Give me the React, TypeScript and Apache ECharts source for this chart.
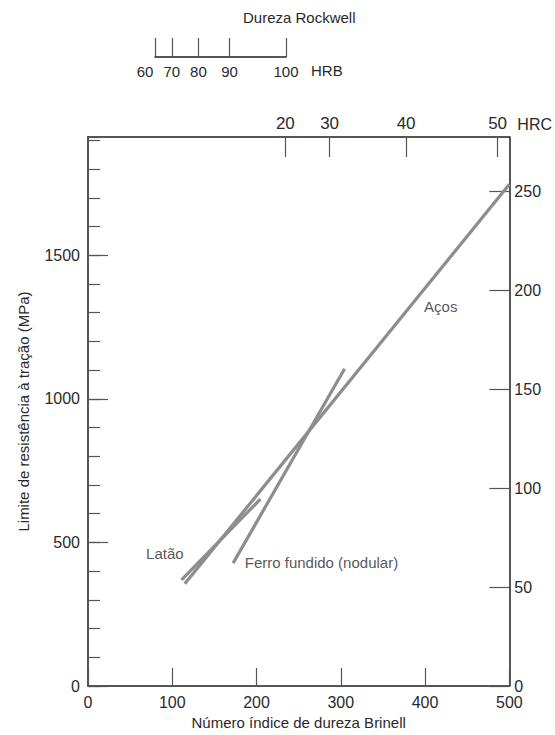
import React, { useEffect, useRef } from "react";
import * as echarts from "echarts";

// Brinell hardness (x) vs tensile strength (MPa) for each material line
const acosHB = [114.9, 500];
const acosMPa = [356, 1747];
const lataoHB = [111, 204.6];
const lataoMPa = [370, 651];
const ferroHB = [172.2, 304.5];
const ferroMPa = [428, 1105];

// Rockwell C scale: labels and their Brinell equivalents
const hrcLabels = [20, 30, 40, 50];
const hrcAtBrinell = [234.2, 286.7, 377.5, 486.1];

// Rockwell B scale: labels and their Brinell equivalents
const hrbLabels = [60, 70, 80, 90, 100];
const hrbAtBrinell = [79.4, 99.2, 130.7, 167.4, 234.2];

// Annotations
const annotTexts = ["Aços", "Latão", "Ferro fundido (nodular)"];
const annotHB = [418.6, 91.2, 186];
const annotMPa = [1322, 460, 431];
const annotAlign = ["center", "center", "left"];

const MPA_PER_KSI = 6.895;
const Y_MAX = 1912;

const FONT = "Liberation Sans, Arial, Helvetica, sans-serif";
const TXT = "#2a2a2a";
const LINE = "#1e1e1e";
const TICK = "#555";
const SERIES = "#8d8d8d";

function lookupIndex(vals: number[], v: number) {
  return vals.findIndex((b) => Math.abs(b - v) < 0.05);
}

export default function App() {
  const ref = useRef<HTMLDivElement>(null);
  useEffect(() => {
    if (!ref.current) return;
    const chart = echarts.init(ref.current, null, { renderer: "svg" });
    const pair = (xs: number[], ys: number[]) => xs.map((x, i) => [x, ys[i]]);
    const lineSeries = (name: string, xs: number[], ys: number[]) => ({
      name,
      type: "line",
      xAxisIndex: 0,
      yAxisIndex: 0,
      data: pair(xs, ys),
      showSymbol: false,
      symbol: "none",
      lineStyle: { color: SERIES, width: 3.2 },
      silent: true,
      clip: false,
    });
    const plain = (v: number) => String(Math.round(v));
    chart.setOption({
      animation: false,
      textStyle: { fontFamily: FONT },
      title: {
        text: "Dureza Rockwell",
        left: 243,
        top: 10,
        padding: 0,
        textStyle: { fontFamily: FONT, fontSize: 15, fontWeight: "normal", color: TXT },
      },
      grid: [
        { left: 88, right: 45, top: 137, bottom: 49, containLabel: false },
        { left: 155, width: 131, top: 38, height: 19, containLabel: false },
      ],
      xAxis: [
        {
          type: "value",
          gridIndex: 0,
          position: "bottom",
          min: 0,
          max: 500,
          interval: 100,
          name: "Número índice de dureza Brinell",
          nameLocation: "middle",
          nameGap: 29,
          nameTextStyle: { fontFamily: FONT, fontSize: 15, color: TXT },
          axisLine: { show: true, onZero: false, lineStyle: { color: LINE, width: 1.5 } },
          axisTick: { show: true, inside: true, length: 18, lineStyle: { color: TICK, width: 1.2 } },
          axisLabel: { fontFamily: FONT, fontSize: 16, color: TXT, margin: 8, formatter: plain },
          splitLine: { show: false },
        },
        {
          type: "value",
          gridIndex: 0,
          position: "top",
          min: 0,
          max: 500,
          name: "HRC",
          nameLocation: "end",
          nameGap: 8,
          nameTextStyle: { fontFamily: FONT, fontSize: 16, color: TXT, verticalAlign: "bottom", padding: [0, 0, 5, 0] },
          axisLine: { show: true, onZero: false, lineStyle: { color: LINE, width: 1.5 } },
          axisTick: {
            show: true,
            inside: true,
            length: 20,
            customValues: hrcAtBrinell,
            lineStyle: { color: TICK, width: 1.2 },
          },
          axisLabel: {
            fontFamily: FONT,
            fontSize: 17,
            color: TXT,
            margin: 5,
            customValues: hrcAtBrinell,
            formatter: (v: number) => {
              const i = lookupIndex(hrcAtBrinell, v);
              return i >= 0 ? String(hrcLabels[i]) : "";
            },
          },
          splitLine: { show: false },
        },
        {
          type: "value",
          gridIndex: 1,
          position: "bottom",
          min: hrbAtBrinell[0],
          max: hrbAtBrinell[hrbAtBrinell.length - 1],
          name: "HRB",
          nameLocation: "end",
          nameGap: 25,
          nameTextStyle: { fontFamily: FONT, fontSize: 15, color: TXT, verticalAlign: "top", padding: [6, 0, 0, 0] },
          axisLine: { show: true, onZero: false, lineStyle: { color: LINE, width: 1.5 } },
          axisTick: {
            show: true,
            inside: true,
            length: 19,
            customValues: hrbAtBrinell,
            lineStyle: { color: TICK, width: 1.2 },
          },
          axisLabel: {
            fontFamily: FONT,
            fontSize: 15,
            color: TXT,
            margin: 7,
            customValues: hrbAtBrinell,
            showMinLabel: true,
            showMaxLabel: true,
            hideOverlap: false,
            formatter: (v: number) => {
              const i = lookupIndex(hrbAtBrinell, v);
              if (i < 0) return "";
              return i === 0 ? "{first|" + hrbLabels[i] + "}" : "{n|" + hrbLabels[i] + "}";
            },
            rich: {
              first: { fontFamily: FONT, fontSize: 15, color: TXT, padding: [0, 20, 0, 0] },
              n: { fontFamily: FONT, fontSize: 15, color: TXT },
            },
          },
          splitLine: { show: false },
        },
      ],
      yAxis: [
        {
          type: "value",
          gridIndex: 0,
          position: "left",
          min: 0,
          max: Y_MAX,
          interval: 500,
          name: "Limite de resistência à tração (MPa)",
          nameLocation: "middle",
          nameGap: 57,
          nameTextStyle: { fontFamily: FONT, fontSize: 15, color: TXT },
          axisLine: { show: true, onZero: false, lineStyle: { color: LINE, width: 1.5 } },
          axisTick: { show: true, inside: true, length: 20, lineStyle: { color: TICK, width: 1.2 } },
          axisLabel: { fontFamily: FONT, fontSize: 16, color: TXT, margin: 8, showMaxLabel: false, formatter: plain },
          splitLine: { show: false },
        },
        {
          type: "value",
          gridIndex: 0,
          position: "left",
          min: 0,
          max: Y_MAX,
          interval: 100,
          axisLine: { show: false, onZero: false },
          axisTick: { show: true, inside: true, length: 12, lineStyle: { color: TICK, width: 1.2 } },
          axisLabel: { show: false },
          splitLine: { show: false },
        },
        {
          type: "value",
          gridIndex: 0,
          position: "right",
          min: 0,
          max: Y_MAX / MPA_PER_KSI,
          interval: 50,
          axisLine: { show: true, onZero: false, lineStyle: { color: LINE, width: 1.5 } },
          axisTick: { show: true, inside: true, length: 20, lineStyle: { color: TICK, width: 1.2 } },
          axisLabel: { fontFamily: FONT, fontSize: 16, color: TXT, margin: 5, showMaxLabel: false, formatter: plain },
          splitLine: { show: false },
        },
        {
          type: "value",
          gridIndex: 1,
          min: 0,
          max: 1,
          show: false,
        },
      ],
      series: [
        lineSeries("Aços", acosHB, acosMPa),
        lineSeries("Latão", lataoHB, lataoMPa),
        lineSeries("Ferro fundido (nodular)", ferroHB, ferroMPa),
        {
          type: "scatter",
          xAxisIndex: 0,
          yAxisIndex: 0,
          symbolSize: 1,
          itemStyle: { color: "rgba(0,0,0,0)" },
          silent: true,
          data: annotTexts.map((t, i) => ({
            value: [annotHB[i], annotMPa[i]],
            label: {
              show: true,
              position: "inside",
              align: annotAlign[i],
              verticalAlign: "middle",
              formatter: t,
              fontFamily: FONT,
              fontSize: 15,
              color: TXT,
            },
          })),
        },
      ],
    });
    return () => chart.dispose();
  }, []);
  return (
    <div
      ref={ref}
      style={{ position: "absolute", left: 0, top: 0, width: 555, height: 735, background: "#fff" }}
    />
  );
}
